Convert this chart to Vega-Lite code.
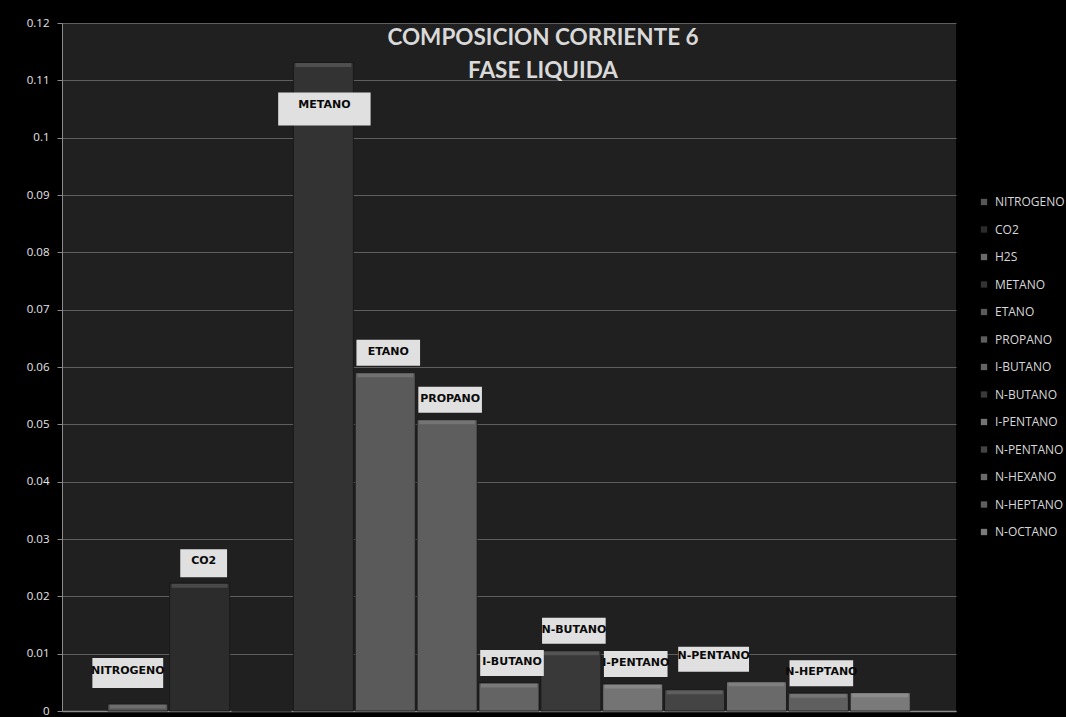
{
  "$schema": "https://vega.github.io/schema/vega-lite/v6.json",
  "width": 894,
  "height": 688,
  "autosize": {"type": "none"},
  "padding": {"left": 62, "top": 23, "right": 110, "bottom": 6},
  "background": "#000000",
  "title": {
    "text": ["COMPOSICION CORRIENTE 6", "FASE LIQUIDA"],
    "font": "Lato",
    "fontSize": 22.5,
    "fontWeight": "bold",
    "color": "#d9d9d9",
    "lineHeight": 33,
    "anchor": "middle",
    "frame": "group",
    "baseline": "alphabetic",
    "dx": 34,
    "offset": -83
  },
  "data": {
    "values": [
      {"componente": "NITROGENO", "fraccion": 0.0012, "etiqueta": "NITROGENO"},
      {"componente": "CO2", "fraccion": 0.0223, "etiqueta": "CO2"},
      {"componente": "H2S", "fraccion": 0, "etiqueta": ""},
      {"componente": "METANO", "fraccion": 0.1131, "etiqueta": "METANO"},
      {"componente": "ETANO", "fraccion": 0.059, "etiqueta": "ETANO"},
      {"componente": "PROPANO", "fraccion": 0.0508, "etiqueta": "PROPANO"},
      {"componente": "I-BUTANO", "fraccion": 0.0049, "etiqueta": "I-BUTANO"},
      {"componente": "N-BUTANO", "fraccion": 0.0105, "etiqueta": "N-BUTANO"},
      {"componente": "I-PENTANO", "fraccion": 0.0047, "etiqueta": "I-PENTANO"},
      {"componente": "N-PENTANO", "fraccion": 0.0037, "etiqueta": "N-PENTANO"},
      {"componente": "N-HEXANO", "fraccion": 0.0051, "etiqueta": ""},
      {"componente": "N-HEPTANO", "fraccion": 0.0031, "etiqueta": "N-HEPTANO"},
      {"componente": "N-OCTANO", "fraccion": 0.0032, "etiqueta": ""}
    ]
  },
  "encoding": {
    "x": {
      "field": "componente",
      "type": "nominal",
      "sort": null,
      "scale": {"paddingInner": 0.03, "paddingOuter": 0.74},
      "axis": {"title": null, "labels": false, "ticks": false, "domain": true, "domainColor": "#8a8a8a", "domainWidth": 1.5, "grid": false}
    },
    "y": {
      "field": "fraccion",
      "type": "quantitative",
      "scale": {"domain": [0, 0.12], "nice": false, "zero": true},
      "axis": {
        "title": null,
        "values": [0, 0.01, 0.02, 0.03, 0.04, 0.05, 0.06, 0.07, 0.08, 0.09, 0.1, 0.11, 0.12],
        "format": ".2~f",
        "labelFont": "Open Sans",
        "labelFontSize": 11.5,
        "labelColor": "#e6e6e6",
        "labelPadding": 8,
        "tickColor": "#8a8a8a",
        "tickSize": 5,
        "domainColor": "#8a8a8a",
        "gridColor": "#5e5e5e",
        "gridWidth": 1
      }
    }
  },
  "layer": [
    {
      "mark": {"type": "bar", "stroke": "#151515", "strokeWidth": 1, "strokeOpacity": 0.8},
      "encoding": {
        "color": {
          "field": "componente",
          "type": "nominal",
          "sort": null,
          "scale": {
            "domain": ["NITROGENO", "CO2", "H2S", "METANO", "ETANO", "PROPANO", "I-BUTANO", "N-BUTANO", "I-PENTANO", "N-PENTANO", "N-HEXANO", "N-HEPTANO", "N-OCTANO"],
            "range": ["#565656", "#2c2c2c", "#6a6a6a", "#333333", "#5a5a5a", "#5e5e5e", "#646464", "#393939", "#747474", "#444444", "#6a6a6a", "#5f5f5f", "#7a7a7a"]
          },
          "legend": {
            "title": null,
            "orient": "none",
            "legendX": 916,
            "legendY": 173,
            "symbolType": "square",
            "symbolSize": 40,
            "symbolStrokeWidth": 0,
            "labelFont": "Open Sans",
            "labelFontSize": 12,
            "labelColor": "#d8d8d8",
            "rowPadding": 15.5,
            "labelOffset": 5
          }
        }
      }
    },
    {
      "transform": [{"filter": "datum.fraccion > 0"}],
      "mark": {"type": "tick", "orient": "horizontal", "color": "#ffffff", "opacity": 0.14, "thickness": 4, "size": 56, "yOffset": 2.5},
      "encoding": {}
    },
    {
      "transform": [{"filter": "indexof(['ETANO','PROPANO','I-BUTANO','N-BUTANO','I-PENTANO','N-HEPTANO'], datum.componente) >= 0"}],
      "mark": {"type": "rect", "color": "#e0e0e0", "width": {"band": 1.06}, "xOffset": 3, "yOffset": -7, "y2Offset": -33},
      "encoding": {"y2": {"field": "fraccion"}}
    },
    {
      "transform": [{"filter": "indexof(['ETANO','PROPANO','I-BUTANO','N-BUTANO','I-PENTANO','N-HEPTANO'], datum.componente) >= 0"}],
      "mark": {"type": "text", "font": "DejaVu Sans", "fontSize": 11, "fontWeight": "bold", "color": "#0a0a0a", "baseline": "middle", "xOffset": 3, "yOffset": -21},
      "encoding": {"text": {"field": "etiqueta"}}
    },
    {
      "transform": [{"filter": "datum.componente == 'CO2'"}],
      "mark": {"type": "rect", "color": "#e0e0e0", "width": {"band": 0.78}, "xOffset": 4, "yOffset": -6, "y2Offset": -34},
      "encoding": {"y2": {"field": "fraccion"}}
    },
    {
      "transform": [{"filter": "datum.componente == 'CO2'"}],
      "mark": {"type": "text", "font": "DejaVu Sans", "fontSize": 11, "fontWeight": "bold", "color": "#0a0a0a", "baseline": "middle", "xOffset": 4, "yOffset": -22},
      "encoding": {"text": {"field": "etiqueta"}}
    },
    {
      "transform": [{"filter": "datum.componente == 'NITROGENO'"}],
      "mark": {"type": "rect", "color": "#e0e0e0", "width": {"band": 1.18}, "xOffset": -10, "yOffset": -16, "y2Offset": -46},
      "encoding": {"y2": {"field": "fraccion"}}
    },
    {
      "transform": [{"filter": "datum.componente == 'NITROGENO'"}],
      "mark": {"type": "text", "font": "DejaVu Sans", "fontSize": 11, "fontWeight": "bold", "color": "#0a0a0a", "baseline": "middle", "xOffset": -10, "yOffset": -33},
      "encoding": {"text": {"field": "etiqueta"}}
    },
    {
      "transform": [{"filter": "datum.componente == 'METANO'"}],
      "mark": {"type": "rect", "color": "#e0e0e0", "width": {"band": 1.54}, "xOffset": 1, "yOffset": 30, "y2Offset": 63},
      "encoding": {"y2": {"field": "fraccion"}}
    },
    {
      "transform": [{"filter": "datum.componente == 'METANO'"}],
      "mark": {"type": "text", "font": "DejaVu Sans", "fontSize": 11, "fontWeight": "bold", "color": "#0a0a0a", "baseline": "middle", "xOffset": 1, "yOffset": 42},
      "encoding": {"text": {"field": "etiqueta"}}
    },
    {
      "transform": [{"filter": "datum.componente == 'N-PENTANO'"}],
      "mark": {"type": "rect", "color": "#e0e0e0", "width": {"band": 1.18}, "xOffset": 19, "yOffset": -18, "y2Offset": -43},
      "encoding": {"y2": {"field": "fraccion"}}
    },
    {
      "transform": [{"filter": "datum.componente == 'N-PENTANO'"}],
      "mark": {"type": "text", "font": "DejaVu Sans", "fontSize": 11, "fontWeight": "bold", "color": "#0a0a0a", "baseline": "middle", "xOffset": 19, "yOffset": -34},
      "encoding": {"text": {"field": "etiqueta"}}
    }
  ],
  "config": {
    "view": {"fill": "#202020", "stroke": null},
    "axis": {"gridColor": "#5e5e5e"}
  }
}
